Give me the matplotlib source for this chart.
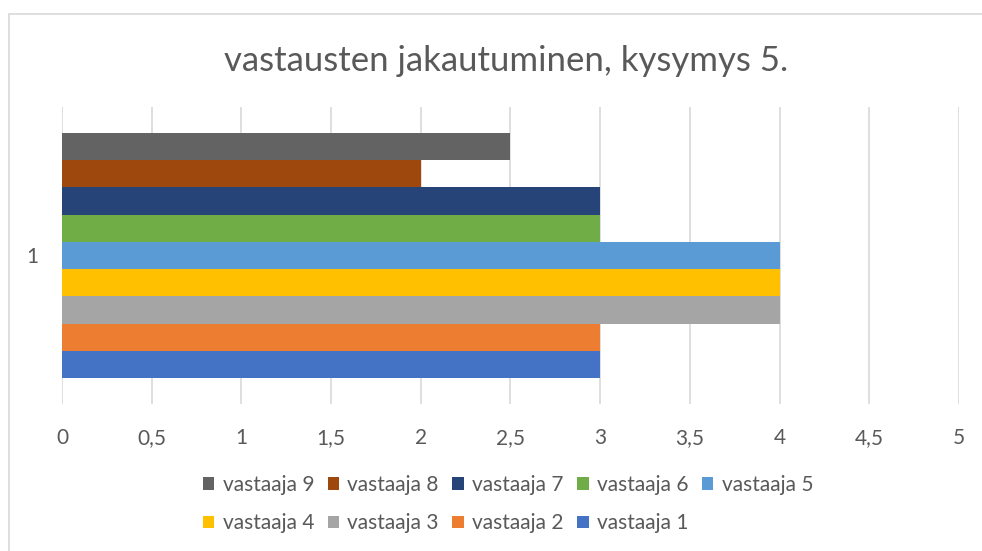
import matplotlib.pyplot as plt
from matplotlib.patches import Rectangle

# data
respondents = ["vastaaja 1", "vastaaja 2", "vastaaja 3", "vastaaja 4", "vastaaja 5",
               "vastaaja 6", "vastaaja 7", "vastaaja 8", "vastaaja 9"]
answers = [3, 3, 4, 4, 4, 3, 3, 2, 2.5]
colors = ["#4472C4", "#ED7D31", "#A5A5A5", "#FFC000", "#5B9BD5",
          "#70AD47", "#264478", "#9E480E", "#636363"]
x_ticks = [0, 0.5, 1, 1.5, 2, 2.5, 3, 3.5, 4, 4.5, 5]
x_ticklabels = ["0", "0,5", "1", "1,5", "2", "2,5", "3", "3,5", "4", "4,5", "5"]
category = "1"
title = "vastausten jakautuminen, kysymys 5."

plt.rcParams['font.family'] = ['Lato', 'DejaVu Sans']
text_col = "#595959"

fig = plt.figure(figsize=(9.82, 5.51), dpi=100)
ax = fig.add_axes([0.0631, 0.2668, 0.9135, 0.539])

n = len(answers)
group = 0.828
h = group / n
handles = []
for i, (name, val, c) in enumerate(zip(respondents, answers, colors)):
    pos = -group / 2 + (i + 0.5) * h
    b = ax.barh(pos, val, height=h, color=c, label=name, zorder=3)
    handles.append(b)

ax.set_xlim(0, 5)
ax.set_ylim(-0.5, 0.5)
ax.set_xticks(x_ticks)
ax.set_xticklabels(x_ticklabels, color=text_col, fontsize=15)
ax.set_yticks([0])
ax.set_yticklabels([category], color=text_col, fontsize=15)
ax.tick_params(length=0, pad=17, axis='x')
ax.tick_params(length=0, pad=17, axis='y')
ax.grid(axis='x', color="#d9d9d9", linewidth=1.2, zorder=0)
for s in ax.spines.values():
    s.set_visible(False)

fig.text(0.515, 0.89, title, ha='center', va='center', color=text_col, fontsize=25)

# legends (two rows, reversed order like the original)
rev = handles[::-1]
kw = dict(frameon=False, fontsize=15, handlelength=0.55, handleheight=0.55,
          handletextpad=0.4, columnspacing=0.65, labelcolor=text_col, borderaxespad=0)
fig.legend(handles=rev[:5], loc='center left', bbox_to_anchor=(0.198, 0.12), ncol=5, **kw)
fig.legend(handles=rev[5:], loc='center left', bbox_to_anchor=(0.198, 0.05), ncol=4, **kw)

# chart border
fig.patches.append(Rectangle((9 / 982, -0.01), 1.1, 1 - 14 / 551 + 0.01, transform=fig.transFigure,
                             fill=False, edgecolor="#d9d9d9", linewidth=1.2))

fig.savefig("out.png", dpi=100)
